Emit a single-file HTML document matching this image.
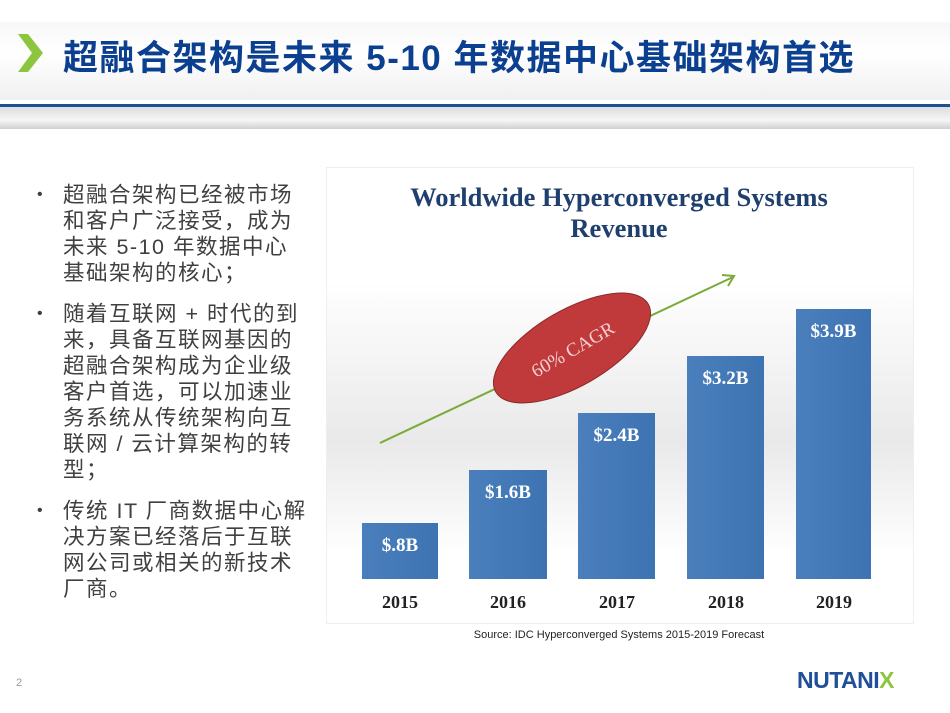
<!DOCTYPE html>
<html><head><meta charset="utf-8"><style>
body{margin:0;width:950px;height:713px;background:#fff;position:relative;overflow:hidden;font-family:"Liberation Sans","Noto Sans CJK SC",sans-serif}
.hdr{position:absolute;left:0;top:22px;width:950px;height:78px;background:linear-gradient(#f7f7f7,#fff 40%,#f0f0f0)}
.line{position:absolute;left:0;top:104px;width:950px;height:3px;background:#1d4f91}
.shadow{position:absolute;left:0;top:107px;width:950px;height:22px;background:linear-gradient(#dcdcdc,#f6f6f6 60%,#d0d0d0)}
.title{position:absolute;left:63px;top:30px;font-size:35px;font-weight:bold;color:#0b3f8f;white-space:nowrap;letter-spacing:1.5px}
.txt{position:absolute;left:63px;top:182px;width:260px;font-size:21.5px;letter-spacing:1.5px;line-height:26px;color:#404040;white-space:nowrap}
.txt p{margin:0 0 15px 0;position:relative}
.txt p:before{content:"•";position:absolute;left:-26px;font-size:16px}
.chart{position:absolute;left:326px;top:167px;width:586px;height:455px;background:linear-gradient(#fff 25%,#e9e9e9 60%,#fff 85%);border:1px solid #eee}
.bar{position:absolute;background:linear-gradient(90deg,#4a7fbc,#3e73b2);color:#fff;font-family:"Liberation Serif",serif;font-weight:bold;font-size:19px;text-align:center;padding-top:12px;box-sizing:border-box}
.yr{position:absolute;top:592px;font-family:"Liberation Serif",serif;font-weight:bold;font-size:18px;color:#222;width:80px;text-align:center}
</style></head><body>
<div class="hdr"></div>
<svg style="position:absolute;left:18px;top:34px" width="26" height="40"><polygon points="0,0 10,0 25,19 10,38 0,38 14,19" fill="#8cc63f"/></svg>
<div class="title">超融合架构是未来 5-10 年数据中心基础架构首选</div>
<div class="line"></div><div class="shadow"></div>
<div class="txt">
<p>超融合架构已经被市场<br>和客户广泛接受，成为<br>未来 5-10 年数据中心<br>基础架构的核心；</p>
<p>随着互联网 + 时代的到<br>来，具备互联网基因的<br>超融合架构成为企业级<br>客户首选，可以加速业<br>务系统从传统架构向互<br>联网 / 云计算架构的转<br>型；</p>
<p>传统 IT 厂商数据中心解<br>决方案已经落后于互联<br>网公司或相关的新技术<br>厂商。</p>
</div>
<div class="chart"></div>
<div style="position:absolute;left:326px;top:182px;width:586px;text-align:center;font-family:'Liberation Serif',serif;font-weight:bold;font-size:26.5px;line-height:31px;color:#1f3f6e">Worldwide Hyperconverged Systems<br>Revenue</div>
<svg style="position:absolute;left:0;top:0" width="950" height="713">
<line x1="380" y1="443" x2="733" y2="277" stroke="#7aaa3a" stroke-width="2"/>
<polyline points="722,275 734,276 728,286" fill="none" stroke="#7aaa3a" stroke-width="2"/>
<ellipse cx="572" cy="348" rx="88" ry="38" transform="rotate(-30 572 348)" fill="#c0393b" stroke="#8a2a2a"/>
<text x="572" y="356" transform="rotate(-30 572 348)" text-anchor="middle" font-family="Liberation Serif" font-size="19" fill="#f4d0d0">60% CAGR</text>
</svg>
<div class="bar" style="left:362px;top:523px;width:76px;height:56px">$.8B</div>
<div class="bar" style="left:469px;top:470px;width:78px;height:109px">$1.6B</div>
<div class="bar" style="left:578px;top:413px;width:77px;height:166px">$2.4B</div>
<div class="bar" style="left:687px;top:356px;width:77px;height:223px">$3.2B</div>
<div class="bar" style="left:796px;top:309px;width:75px;height:270px">$3.9B</div>
<div class="yr" style="left:360px">2015</div><div class="yr" style="left:468px">2016</div><div class="yr" style="left:577px">2017</div><div class="yr" style="left:686px">2018</div><div class="yr" style="left:794px">2019</div>
<div style="position:absolute;left:326px;top:629px;width:586px;text-align:center;font-size:11px;color:#222">Source: IDC Hyperconverged Systems 2015-2019 Forecast</div>
<div style="position:absolute;left:16px;top:677px;font-size:11px;color:#999">2</div>
<div style="position:absolute;left:797px;top:667px;font-size:23px;font-weight:bold;color:#1f4e9a;letter-spacing:-0.5px">NUTANI<span style="color:#8cc63f">X</span></div>
</body></html>
